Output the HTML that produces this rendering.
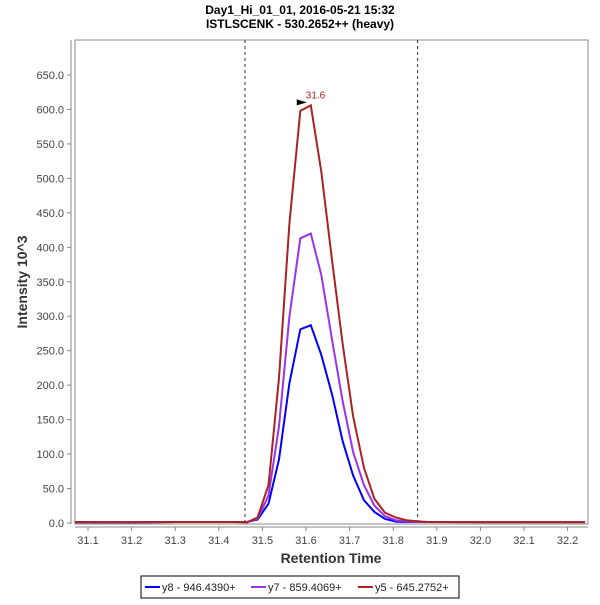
<!DOCTYPE html>
<html><head><meta charset="utf-8"><style>
body{margin:0;background:#fff;font-family:"Liberation Sans",sans-serif;}
svg text{font-family:"Liberation Sans",sans-serif;}
</style></head><body>
<svg id="chart" width="600" height="600" xmlns="http://www.w3.org/2000/svg">
<rect width="600" height="600" fill="#fff"/>
<text x="300" y="14" text-anchor="middle" font-size="12" font-weight="bold">Day1_Hi_01_01, 2016-05-21 15:32</text>
<text x="300" y="28" text-anchor="middle" font-size="12" font-weight="bold">ISTLSCENK - 530.2652++ (heavy)</text>
<rect x="75" y="40" width="513" height="484" fill="#fff" stroke="#888" stroke-width="1"/>
<g id="axes"></g>
<g id="series"></g>
<text transform="translate(27,282) rotate(-90)" text-anchor="middle" font-size="14" font-weight="bold" fill="#333">Intensity 10^3</text>
<text x="331" y="563" text-anchor="middle" font-size="14" font-weight="bold" fill="#333">Retention Time</text>
<g>
<rect x="141" y="576" width="318" height="22" fill="#fff" stroke="#000"/>
<line x1="145" y1="587" x2="160" y2="587" stroke="#0000ff" stroke-width="2"/>
<text x="162" y="591" font-size="11" fill="#222">y8 - 946.4390+</text>
<line x1="251" y1="587" x2="266" y2="587" stroke="#9933ee" stroke-width="2"/>
<text x="268" y="591" font-size="11" fill="#222">y7 - 859.4069+</text>
<line x1="358" y1="587" x2="373" y2="587" stroke="#aa2222" stroke-width="2"/>
<text x="375" y="591" font-size="11" fill="#222">y5 - 645.2752+</text>
</g>
</svg>
<script>
const times = [31.07,31.2,31.3,31.44,31.465,31.489,31.514,31.538,31.562,31.587,31.611,31.635,31.660,31.684,31.708,31.733,31.757,31.781,31.806,31.830,31.854,31.88,32.0,32.24];
const y8 = [1,1,1.5,1.5,1.5,5,28,92,203,281,287,244,186,119,69,33,16,6,2,1.5,1.5,1.5,1.5,1.5];
const y7 = [1,1,1.5,1.5,1.5,6,40,140,300,413,420,360,265,177,103,55,25,10,4,2,1.5,1.5,1.5,1.5];
const y5 = [1.5,1,1.5,1.5,1,8,55,210,435,598,606,510,380,260,155,80,35,15,8,4,2.5,1.5,1,1];
const xTicks = [31.1,31.2,31.3,31.4,31.5,31.6,31.7,31.8,31.9,32.0,32.1,32.2];
const yTicks = [0,50,100,150,200,250,300,350,400,450,500,550,600,650];
const markers = [31.46,31.856];
const apexTime = 31.611, apexValue = 606;
const NS='http://www.w3.org/2000/svg';
const X = t => 88 + (t-31.1)*436;
const Y = v => 523 - v*0.6892;
function mk(tag, attrs, parent){const e=document.createElementNS(NS,tag);for(const k in attrs)e.setAttribute(k,attrs[k]);parent.appendChild(e);return e;}
const axes=document.getElementById('axes'), ser=document.getElementById('series');
let a=mk('line',{x1:71,y1:40,x2:71,y2:524,stroke:'#888'},axes);


a=mk('line',{x1:75,y1:527,x2:588,y2:527,stroke:'#888'},axes);


yTicks.forEach(v=>{
  mk('line',{x1:67,x2:71,y1:Y(v),y2:Y(v),stroke:'#888'},axes);
  const t=mk('text',{x:64,y:Y(v)+4,'text-anchor':'end','font-size':11,fill:'#444'},axes);
  t.textContent=v.toFixed(1);
  
  
});
xTicks.forEach(v=>{
  mk('line',{x1:X(v),x2:X(v),y1:527,y2:531,stroke:'#888'},axes);
  const t=mk('text',{x:X(v),y:544,'text-anchor':'middle','font-size':11,fill:'#444'},axes);
  t.textContent=v.toFixed(1);
  
  
});
markers.forEach(m=>{
  const l=mk('line',{x1:X(m),x2:X(m),y1:40,y2:524,stroke:'#333','stroke-dasharray':'3,3'},axes);
  
  
});
[[y8,'#0000ff','series-y8'],[y7,'#9933ee','series-y7'],[y5,'#aa2222','series-y5']].forEach(([d,c,n])=>{
  const p=mk('polyline',{points:times.map((t,i)=>X(t)+','+Y(d[i])).join(' '),fill:'none',stroke:c,'stroke-width':2},ser);
  
  
});
const ax=X(apexTime), ay=Y(apexValue);
const arr=mk('polygon',{points:`${ax-14},${ay-6} ${ax-14},${ay} ${ax-4},${ay-3}`,fill:'#000'},ser);


const lab=mk('text',{x:ax-5,y:ay-7,'font-size':10,fill:'#aa2222'},ser);
lab.textContent=apexTime.toFixed(1);


</script>
</body></html>
